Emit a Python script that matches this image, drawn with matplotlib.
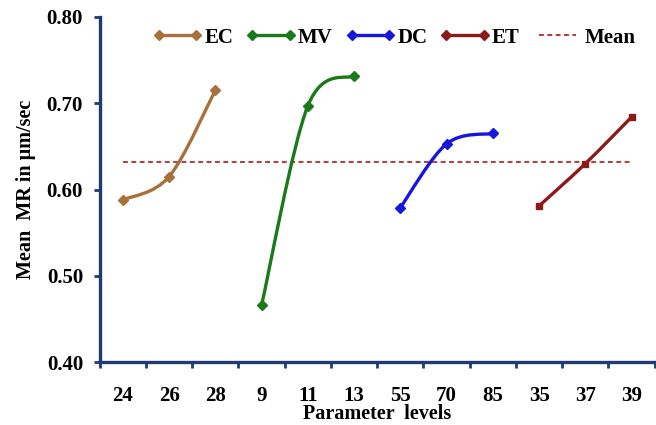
import matplotlib.pyplot as plt
from matplotlib.path import Path
from matplotlib.patches import PathPatch
from matplotlib.lines import Line2D

# Data
tick_labels = ["24", "26", "28", "9", "11", "13", "55", "70", "85", "35", "37", "39"]
series_names = ["EC", "MV", "DC", "ET"]
ec = [0.588, 0.615, 0.715]
mv = [0.466, 0.697, 0.732]
dc = [0.579, 0.653, 0.665]
et = [0.581, 0.630, 0.684]
mean_mr = 0.632

colors = ["#A8703A", "#1A7A1A", "#1616DC", "#8B1A1A"]
markers = ["D", "D", "D", "s"]

plt.rcParams["font.family"] = "Liberation Serif"
plt.rcParams["font.weight"] = "bold"

fig = plt.figure(figsize=(6.56, 4.25), dpi=100)
ax = fig.add_axes([0.152, 0.148, 0.846, 0.812])


def smooth_path(xs, ys):
    # cubic bezier through the points (Excel-style smoothed line)
    verts = [(xs[0], ys[0])]
    codes = [Path.MOVETO]
    n = len(xs)
    for i in range(n - 1):
        x0, y0 = (xs[i - 1], ys[i - 1]) if i > 0 else (xs[i], ys[i])
        x1, y1 = xs[i], ys[i]
        x2, y2 = xs[i + 1], ys[i + 1]
        x3, y3 = (xs[i + 2], ys[i + 2]) if i + 2 < n else (x2, y2)
        c1 = (x1 + (x2 - x0) / 6, y1 + (y2 - y0) / 6)
        c2 = (x2 - (x3 - x1) / 6, y2 - (y3 - y1) / 6)
        verts += [c1, c2, (x2, y2)]
        codes += [Path.CURVE4] * 3
    return Path(verts, codes)


handles = []
for k, vals in enumerate([ec, mv, dc, et]):
    xs = [3 * k + i for i in range(len(vals))]
    ax.add_patch(PathPatch(smooth_path(xs, vals), facecolor="none",
                           edgecolor=colors[k], lw=2.4, zorder=3))
    ax.plot(xs, vals, ls="none", marker=markers[k], color=colors[k],
            markersize=5, zorder=4)
    handles.append(Line2D([0], [0], color=colors[k], lw=2.4, marker="D",
                          markersize=5))

ax.hlines(mean_mr, 0, 11, colors="#B83A3A", linestyles=(0, (2.5, 1.8)), lw=1.4, zorder=2)
handles.append(Line2D([0], [0], color="#B83A3A", lw=1.4, ls=(0, (2.5, 1.8))))

ax.set_xlim(-0.5, 11.5)
ax.set_ylim(0.40, 0.80)
ax.set_yticks([0.40, 0.50, 0.60, 0.70, 0.80])
ax.set_yticklabels(["0.40", "0.50", "0.60", "0.70", "0.80"])
ax.set_xticks(range(12))
ax.set_xticklabels(tick_labels)
ax.set_xticks([i - 0.5 for i in range(13)], minor=True)
ax.tick_params(axis="x", which="major", length=0, pad=17, labelsize=15)
ax.tick_params(axis="x", which="minor", length=4, width=2, color="#1F3B73", direction="out")
ax.tick_params(axis="y", length=4, width=2, color="#1F3B73", labelsize=15, pad=8)

for s in ["top", "right"]:
    ax.spines[s].set_visible(False)
for s in ["left", "bottom"]:
    ax.spines[s].set_color("#1F3B73")
    ax.spines[s].set_linewidth(2.4)

ax.set_xlabel("Parameter  levels", fontsize=14.5, fontweight="bold", labelpad=-1)
ax.set_ylabel("Mean  MR in μm/sec", fontsize=14.5, fontweight="bold", labelpad=8)

ax.legend(handles, series_names + ["Mean"], ncol=5, frameon=False,
          loc="center left", bbox_to_anchor=(0.095, 0.94), handlelength=2.4,
          handletextpad=0.1, columnspacing=0.6, numpoints=2,
          borderaxespad=0, borderpad=0,
          prop={"weight": "bold", "size": 15})

fig.savefig("out.png", dpi=100)
